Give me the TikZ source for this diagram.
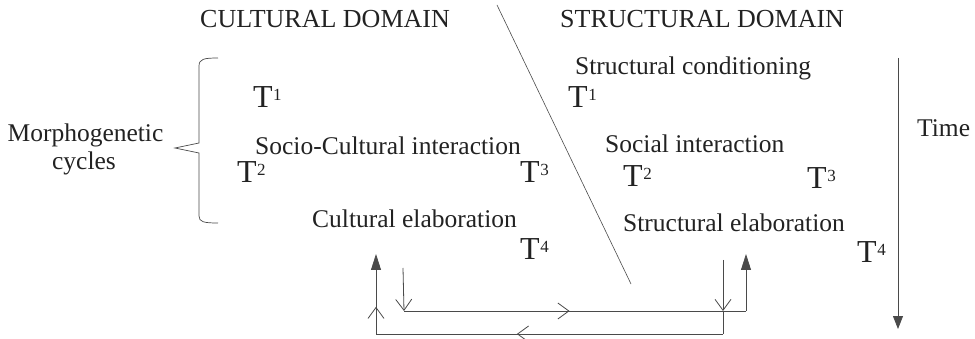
\documentclass[tikz,border=0pt]{standalone}
\usepackage{fontspec}
\setmainfont{Liberation Serif}
\usepackage{tikz}
\usetikzlibrary{arrows.meta,decorations.markings}
\definecolor{inkgray}{HTML}{222222}
\definecolor{linegray}{HTML}{4A4A4A}
\newcommand{\Tstep}[1]{{\fontsize{32}{32}\selectfont T}\kern0.5pt\raisebox{7.5pt}{\fontsize{17}{17}\selectfont #1}}

\begin{document}
\begin{tikzpicture}[
  x=1pt,y=-1pt,
  font=\fontsize{25.5}{28}\selectfont,
  lbl/.style={anchor=base west,inner sep=0pt,text=inkgray},
  head/.style={lbl,font=\fontsize{26}{28}\selectfont},
  tsym/.style={anchor=base west,inner sep=0pt,text=inkgray},
  flow/.style={draw=linegray,line width=0.8pt},
  openhead/.style={-{Straight Barb[length=11pt,width=16pt]}},
  solidhead/.style={-{Triangle[length=16pt,width=10pt]}},
  midopen/.style={postaction={decorate},decoration={markings,
    mark=at position #1 with {\arrow{Straight Barb[length=11pt,width=16pt]}}}},
]
\useasboundingbox (0,0) rectangle (975,339);
% Headings
\node[head] (cultdom) at (200,28) {CULTURAL DOMAIN};
\node[head] (structdom) at (560,28) {STRUCTURAL DOMAIN};
\node[lbl,anchor=base] (morph) at (85.5,142) {Morphogenetic};
\node[lbl,anchor=base] (cycles) at (84,170) {cycles};
\node[lbl] (time) at (917,137) {Time};

% Cultural domain
\node[tsym] (lt1) at (253,108) {\Tstep{1}};
\node[lbl]  (sci) at (255,155) {Socio-Cultural interaction};
\node[tsym] (lt2) at (237,183) {\Tstep{2}};
\node[tsym] (lt3) at (520,183) {\Tstep{3}};
\node[lbl]  (ce)  at (312,228) {Cultural elaboration};
\node[tsym] (lt4) at (520,260) {\Tstep{4}};

% Structural domain
\node[lbl]  (sc)  at (575,75)  {Structural conditioning};
\node[tsym] (rt1) at (568,108) {\Tstep{1}};
\node[lbl]  (si)  at (605,153) {Social interaction};
\node[tsym] (rt2) at (623,187) {\Tstep{2}};
\node[tsym] (rt3) at (807,189) {\Tstep{3}};
\node[lbl]  (se)  at (623,232) {Structural elaboration};
\node[tsym] (rt4) at (857,263) {\Tstep{4}};

% Divider and brace
\coordinate (divtop) at (497,5);
\coordinate (divbot) at (631,284);
\draw[flow,line width=0.6pt] (divtop) -- (divbot);
\draw[flow,line width=0.7pt] (218,58) .. controls (204,58) and (199,59) .. (199,66)
  -- (199,143) -- (175,148) -- (199,153) -- (199,216)
  .. controls (199,222) and (204,223) .. (218,223);

% Time axis
\coordinate (ttop) at (898,58);
\coordinate (tbot) at (898,329);
\draw[flow,-{Triangle[length=13pt,width=10pt]}] (ttop) -- (tbot);

% Feedback loop
\coordinate (cstart) at (403,268);
\coordinate (cjoin)  at (404,311);
\coordinate (send)   at (746,311);
\coordinate (stip)   at (746,254);
\coordinate (sstart) at (723,260);
\coordinate (sjoin)  at (723,311);
\coordinate (sbot)   at (723,334);
\coordinate (cbot)   at (376,334);
\coordinate (ctip)   at (376,254);
\draw[flow,openhead] (cstart) -- (cjoin);
\draw[flow,midopen=0.484] (cjoin) -- (send);
\draw[flow,solidhead] (send) -- (stip);
\draw[flow,openhead] (sstart) -- (sjoin);
\draw[flow] (sjoin) -- (sbot);
\draw[flow,midopen=0.594] (sbot) -- (cbot);
\draw[flow,midopen=0.34,solidhead] (cbot) -- (ctip);
\end{tikzpicture}
\end{document}
